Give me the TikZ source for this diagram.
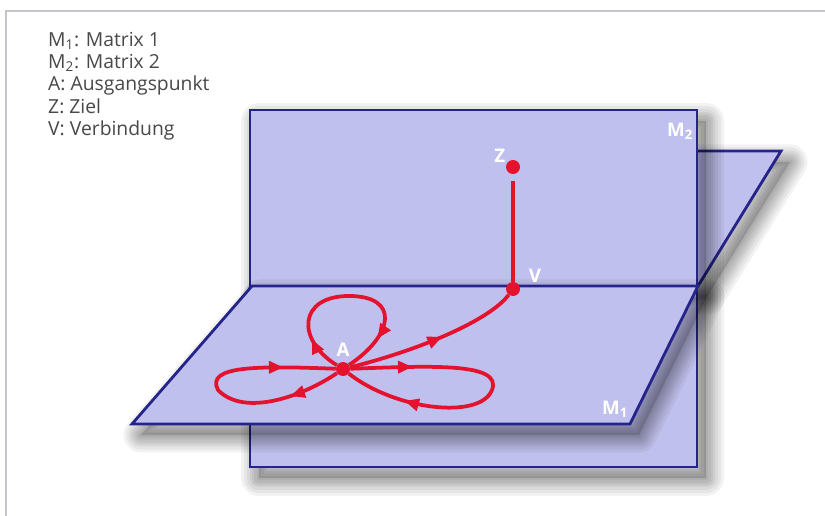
\documentclass[tikz,border=0pt]{standalone}
\usepackage{fontspec}
\setmainfont{Open Sans}
\usetikzlibrary{arrows.meta, positioning, decorations.markings}
\definecolor{plane}{RGB}{192,192,238}
\definecolor{planeedge}{RGB}{36,36,138}
\definecolor{routered}{RGB}{228,18,45}
\definecolor{legendgrey}{RGB}{72,72,72}
\definecolor{framegrey}{RGB}{196,196,206}

\begin{document}
\begin{tikzpicture}[x=0.03cm, y=-0.03cm,
        shadowlayer/.style={preaction={draw=black, opacity=0.05, line width=#1, line join=round,
                      transform canvas={shift={(0.27cm,-0.33cm)}}}},
        plate/.style={shadowlayer=30pt, shadowlayer=25pt, shadowlayer=20pt, shadowlayer=16pt,
                      shadowlayer=12pt, shadowlayer=8pt, shadowlayer=4pt,
                      preaction={fill=black, opacity=0.14, transform canvas={shift={(0.27cm,-0.33cm)}}},
                      fill=plane, draw=planeedge, line width=2.4pt, line join=miter},
        dot/.style={circle, fill=routered, inner sep=0pt, minimum size=0.42cm},
        lbl/.style={text=white, font=\bfseries\fontsize{16}{16}\selectfont, inner sep=1pt},
        route/.style={draw=routered, line width=3.2pt},
        tips/.style 2 args={decoration={markings,
                      mark=at position #1 with {\arrow{Triangle[length=4.4mm,width=3.6mm]}},
                      mark=at position #2 with {\arrow{Triangle[length=4.4mm,width=3.6mm]}}},
                      postaction=decorate},
        onetip/.style={decoration={markings,
                      mark=at position #1 with {\arrow{Triangle[length=4.4mm,width=3.6mm]}}},
                      postaction=decorate}]
      \useasboundingbox[fill=white] (0,0) rectangle (825,516);
      \draw[framegrey, line width=1.5pt] (825,11) -- (6,11) -- (6,516);

      % legend
      \node[anchor=north west, align=left, inner sep=0pt, text=legendgrey,
            font=\fontsize{16.5}{19}\selectfont] (legend) at (48,32)
        {M\textsubscript{1}: Matrix 1\\ M\textsubscript{2}: Matrix 2\\ A: Ausgangspunkt\\
         Z: Ziel\\ V: Verbindung};

      % planes
      \draw[plate] (420,151) -- (781,151) -- (698,286) -- (252,286) -- cycle;
      \draw[plate] (250,110) rectangle (697,467);
      \draw[plate] (252,286) -- (698,286) -- (630,424) -- (132,424) -- cycle;
      \node[lbl] (m2) at (680,131) {M\textsubscript{2}};
      \node[lbl] (m1) at (615,409) {M\textsubscript{1}};

      % points
      \node[dot] (A) at (343,369) {};
      \node[dot] (V) at (513,289) {};
      \node[dot] (Z) at (513,167) {};
      \node[lbl, above=3pt of A] (la) {A};
      \node[lbl, above left=-2pt and 1pt of Z] (lz) {Z};
      \node[lbl, above right=0pt and 8pt of V] (lv) {V};

      % paths
      \draw[route, tips={0.17}{0.82}] (A) .. controls (296,340) and (298,296) .. (349,296)
                                         .. controls (400,296) and (394,335) .. (A);
      \draw[route, tips={0.2}{0.8}] (A) .. controls (305,395) and (245,418) .. (218,390)
                                       .. controls (205,365) and (260,366) .. (A);
      \draw[route, tips={0.2}{0.8}] (A) .. controls (430,366) and (503,362) .. (492,390)
                                       .. controls (480,420) and (395,410) .. (A);
      \draw[route, onetip=0.55] (A) .. controls (420,350) and (490,320) .. (V);
      \draw[route, line width=4pt, shorten <=0.2cm] (Z) -- (V);
    \end{tikzpicture}
\end{document}
